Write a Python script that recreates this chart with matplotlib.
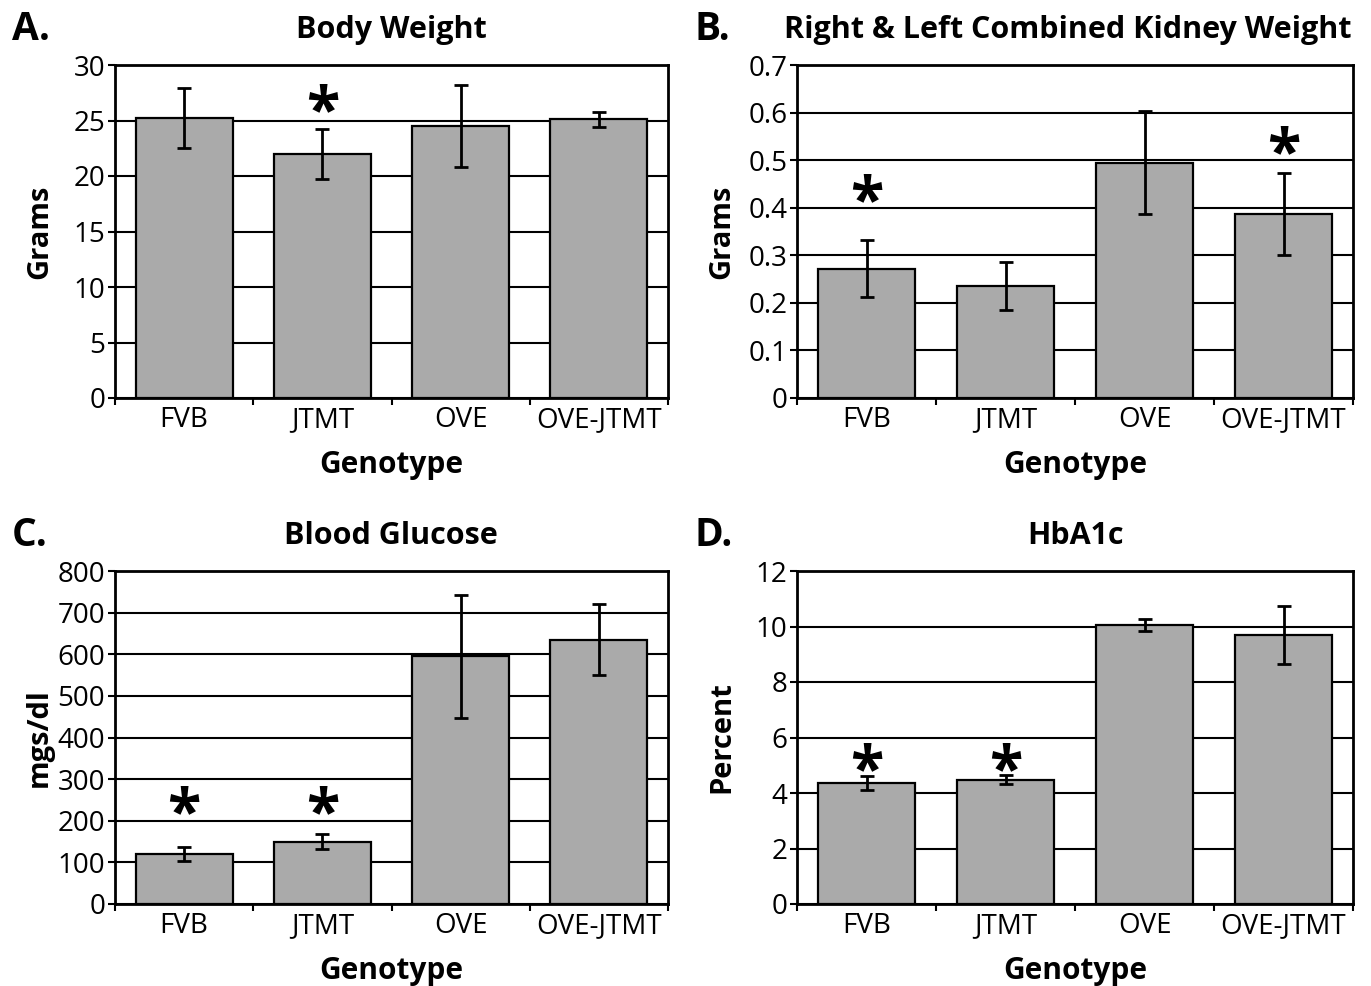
import matplotlib
matplotlib.use("Agg")
import matplotlib.pyplot as plt
import numpy as np

plt.rcParams['font.family'] = ['Open Sans', 'DejaVu Sans']

genotypes = ["FVB", "JTMT", "OVE", "OVE-JTMT"]

body_weight = [25.2, 22.0, 24.5, 25.1]
body_weight_err = [2.7, 2.25, 3.7, 0.7]
body_weight_sig = [None, 27.0, None, None]

kidney_weight = [0.272, 0.235, 0.495, 0.386]
kidney_weight_err = [0.06, 0.05, 0.108, 0.086]
kidney_weight_sig = [0.441, None, None, 0.542]

glucose = [120, 150, 595, 635]
glucose_err = [17, 18, 147, 86]
glucose_sig = [250, 250, None, None]

hba1c = [4.35, 4.48, 10.05, 9.7]
hba1c_err = [0.25, 0.17, 0.22, 1.05]
hba1c_sig = [5.3, 5.3, None, None]

panels = [
    ("A.", "Body Weight", "Grams", body_weight, body_weight_err, body_weight_sig,
     (0, 30), np.arange(0, 31, 5)),
    ("B.", "Right & Left Combined Kidney Weight", "Grams", kidney_weight, kidney_weight_err, kidney_weight_sig,
     (0, 0.7), np.round(np.arange(0, 0.71, 0.1), 1)),
    ("C.", "Blood Glucose", "mgs/dl", glucose, glucose_err, glucose_sig,
     (0, 800), np.arange(0, 801, 100)),
    ("D.", "HbA1c", "Percent", hba1c, hba1c_err, hba1c_sig,
     (0, 12), np.arange(0, 13, 2)),
]

W, H = 1371, 986
fig = plt.figure(figsize=(W / 100, H / 100), dpi=100)

# axes boxes in pixels: left, top, right, bottom, title centre x
boxes = [(115, 65, 668, 398, 391), (797, 65, 1353, 398, 1068),
         (115, 571, 668, 904, 391), (797, 571, 1353, 904, 1075)]

for (letter, title, ylabel, vals, errs, sigs, ylim, yticks), (l, t, r, b, tx) in zip(panels, boxes):
    ax = fig.add_axes([l / W, 1 - b / H, (r - l) / W, (b - t) / H])
    x = np.arange(len(genotypes))
    ax.set_xlim(-0.5, len(genotypes) - 0.5)
    ax.set_ylim(*ylim)
    for yv in yticks:
        ax.axhline(yv, color="black", lw=1.5, zorder=1)
    ax.bar(x, vals, width=0.7, color="#aaaaaa", edgecolor="black", linewidth=1.6, zorder=2)
    ax.errorbar(x, vals, yerr=errs, fmt="none", ecolor="black", elinewidth=2.0,
                capsize=5, capthick=2.0, zorder=3)
    for xi, s in zip(x, sigs):
        if s is not None:
            ax.annotate("*", (xi, s), xytext=(0, -11), textcoords="offset points",
                        ha="center", va="center", fontsize=44, fontweight="bold",
                        zorder=4)
    ax.set_yticks(yticks)
    ax.set_yticklabels([f"{v:g}" for v in yticks], fontsize=20)
    ax.set_xticks(x)
    ax.set_xticklabels(genotypes, fontsize=20)
    ax.set_xticks(np.arange(-0.5, len(genotypes), 1.0), minor=True)
    ax.tick_params(axis="x", which="major", length=0, pad=6)
    ax.tick_params(axis="x", which="minor", length=5, width=1.5, direction="out")
    ax.tick_params(axis="y", length=5, width=1.5, direction="out", pad=2)
    for sp in ax.spines.values():
        sp.set_linewidth(2.0)
        sp.set_color("black")
        sp.set_zorder(5)
    ax.set_ylabel(ylabel, fontsize=21, fontweight="bold")
    ax.yaxis.set_label_coords(-61 / (r - l), 0.5)
    ax.set_xlabel("Genotype", fontsize=21.5, fontweight="bold")
    ax.xaxis.set_label_coords(0.5, -(450 - 398) / 333)
    fig.text(tx / W, 1 - (t - 35) / H, title,
             ha="center", va="center", fontsize=22, fontweight="bold")
    fig.text((l - 103) / W, 1 - (t - 35) / H, letter, fontsize=28, fontweight="bold",
             ha="left", va="center")

fig.savefig("out.png", dpi=100)
